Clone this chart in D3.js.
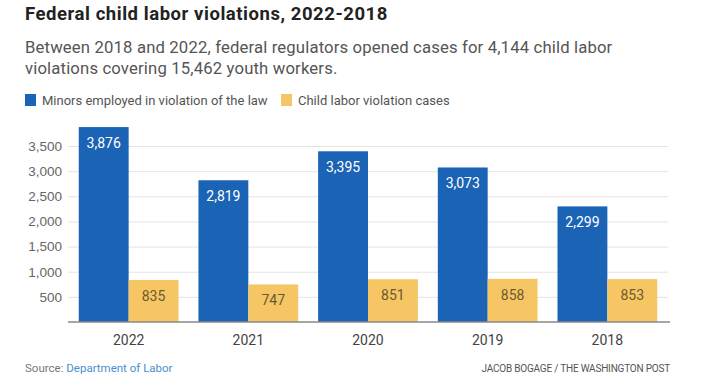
<!DOCTYPE html>
<html>
<head>
<meta charset="utf-8">
<script src="https://cdn.jsdelivr.net/npm/d3@7"></script>
<style>
    body { margin: 0; background: #fff; }
    svg { font-family: Roboto, "Noto Sans", sans-serif; }
    .title { font-size: 18.5px; font-weight: bold; fill: #222; letter-spacing: 0.55px; }
    .subtitle { font-size: 16.7px; fill: #555; letter-spacing: 0.15px; }
    .legendLabel { font-size: 13px; fill: #555; }
    .axis text { font-size: 13.5px; fill: #666; }
    .yearLabel { font-size: 14px; fill: #444; }
    .barLabel { font-size: 14px; }
    .source { font-size: 11.5px; fill: #777; }
    .credit { font-size: 10px; fill: #555; letter-spacing: -0.2px; }
</style>
</head>
<body>
<div id="chart"></div>
<script>
// chart values
const years = ["2022", "2021", "2020", "2019", "2018"];
const minors = [3876, 2819, 3395, 3073, 2299];
const cases = [835, 747, 851, 858, 853];
const yTicks = [500, 1000, 1500, 2000, 2500, 3000, 3500];
const seriesNames = ["Minors employed in violation of the law", "Child labor violation cases"];
const seriesColors = ["#1b63b5", "#f6c665"];

const width = 720;
const height = 383;
const margin = { top: 146, left: 68, right: 52, bottom: 61 };

const svg = d3.select("#chart")
    .append("svg")
    .attr("width", width)
    .attr("height", height);

// title and subtitle
svg.append("text")
    .attr("class", "title")
    .attr("x", 25)
    .attr("y", 20)
    .text("Federal child labor violations, 2022-2018");

const subLines = ["Between 2018 and 2022, federal regulators opened cases for 4,144 child labor",
    "violations covering 15,462 youth workers."];
svg.selectAll(".subtitle")
    .data(subLines)
    .enter()
    .append("text")
    .attr("class", "subtitle")
    .attr("x", 25)
    .attr("y", (d, i) => 53 + i * 21)
    .text(d => d);

// legend
const legendX = [25, 281];
svg.selectAll(".legendRect")
    .data(seriesNames)
    .enter()
    .append("rect")
    .attr("x", (d, i) => legendX[i])
    .attr("y", 94)
    .attr("width", 11)
    .attr("height", 12)
    .attr("fill", (d, i) => seriesColors[i]);

svg.selectAll(".legendLabel")
    .data(seriesNames)
    .enter()
    .append("text")
    .attr("class", "legendLabel")
    .attr("x", (d, i) => legendX[i] + 17)
    .attr("y", 104.5)
    .text(d => d);

// scales
const xScale = d3.scaleBand()
    .domain(years)
    .range([margin.left, width - margin.right])
    .paddingInner(1 / 6)
    .paddingOuter(0.09);

const innerScale = d3.scaleBand()
    .domain([0, 1])
    .range([0, xScale.bandwidth()]);

const yScale = d3.scaleLinear()
    .domain([0, 3500])
    .range([height - margin.bottom, margin.top]);

// gridlines + y labels
const yAxis = svg.append("g")
    .attr("class", "axis")
    .attr("transform", `translate(${margin.left},0)`)
    .call(d3.axisLeft(yScale)
        .tickValues(yTicks)
        .tickFormat(d3.format(","))
        .tickSize(-(width - margin.left - margin.right))
        .tickPadding(6));
yAxis.select(".domain").remove();
yAxis.selectAll(".tick line").attr("stroke", "#e3e3e3");

// bars
const groups = svg.selectAll(".yearGroup")
    .data(years)
    .enter()
    .append("g")
    .attr("transform", d => `translate(${xScale(d)},0)`);

const barData = (d, i) => [
    { s: 0, value: minors[i] },
    { s: 1, value: cases[i] }
];

groups.selectAll("rect")
    .data(barData)
    .enter()
    .append("rect")
    .attr("x", d => innerScale(d.s))
    .attr("y", d => yScale(d.value))
    .attr("width", innerScale.bandwidth())
    .attr("height", d => yScale(0) - yScale(d.value))
    .attr("fill", d => seriesColors[d.s]);

groups.selectAll(".barLabel")
    .data(barData)
    .enter()
    .append("text")
    .attr("class", "barLabel")
    .attr("x", d => innerScale(d.s) + innerScale.bandwidth() / 2)
    .attr("y", d => yScale(d.value) + 21)
    .attr("text-anchor", "middle")
    .attr("fill", d => d.s === 0 ? "#fff" : "#6b5a2c")
    .text(d => d3.format(",")(d.value));

// baseline
svg.append("line")
    .attr("x1", margin.left)
    .attr("x2", width - margin.right + 2)
    .attr("y1", yScale(0))
    .attr("y2", yScale(0))
    .attr("stroke", "#888")
    .attr("stroke-width", 1.5);

// year labels
svg.selectAll(".yearLabel")
    .data(years)
    .enter()
    .append("text")
    .attr("class", "yearLabel")
    .attr("x", d => xScale(d) + xScale.bandwidth() / 2)
    .attr("y", yScale(0) + 23)
    .attr("text-anchor", "middle")
    .text(d => d);

// footer
const source = svg.append("text")
    .attr("class", "source")
    .attr("x", 25)
    .attr("y", 372);
source.append("tspan").text("Source: ");
source.append("tspan").attr("fill", "#4a90cf").text("Department of Labor");

svg.append("text")
    .attr("class", "credit")
    .attr("x", 670)
    .attr("y", 372)
    .attr("text-anchor", "end")
    .text("JACOB BOGAGE / THE WASHINGTON POST");
</script>
</body>
</html>
